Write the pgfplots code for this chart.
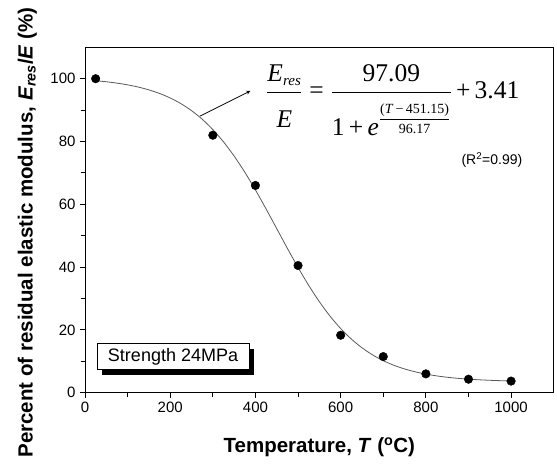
\documentclass[border=0pt]{standalone}
\usepackage{fontspec}
\setmainfont{Liberation Sans}
\newfontfamily\tnr{Liberation Serif}
\usepackage{pgfplots}
\pgfplotsset{compat=1.18}
\usetikzlibrary{shadows}
\begin{document}
\begin{tikzpicture}
\begin{axis}[
  at={(0,0)}, anchor=south west,
  width=468.7pt, height=345.4pt, scale only axis,
  xmin=0, xmax=1100, ymin=0, ymax=110,
  xtick={0,200,...,1000}, ytick={0,20,...,100},
  minor x tick num=1, minor y tick num=1,
  xtick pos=bottom, ytick pos=left,
  tick align=outside,
  major tick length=5pt, minor tick length=4pt,
  axis line style={line width=0.9pt, black},
  every tick/.style={line width=0.9pt, black},
  tick label style={font=\fontsize{15}{15}\selectfont},
  /pgf/number format/assume math mode=true,
  /pgf/number format/1000 sep={},
  x tick label style={yshift=-1pt},
  y tick label style={xshift=-1pt},
  xlabel={\textbf{Temperature, \textit{T} (\textsuperscript{o}C)}},
  ylabel={\textbf{Percent of residual elastic modulus, \textit{E}\textsubscript{\textit{res}}/\textit{E} (\%)}},
  xlabel style={font=\fontsize{20.5}{22}\selectfont, at={(axis description cs:0.5,-0.1737)}, anchor=base, inner sep=0pt},
  ylabel style={font=\fontsize{20.5}{22}\selectfont, at={(axis description cs:-0.1024,0.464)}, anchor=south, inner sep=0pt},
  clip=false,
]
\addplot[color=black!65, line width=0.8pt, smooth] coordinates {
(25,99.36) (50,99.03) (75,98.59) (100,98.04) (125,97.34) (150,96.44) (175,95.30)
(200,93.86) (225,92.06) (250,89.83) (275,87.10) (300,83.80) (325,79.90) (350,75.36)
(375,70.23) (400,64.57) (425,58.51) (450,52.25) (475,45.97) (500,39.88) (525,34.18)
(550,28.99) (575,24.40) (600,20.44) (625,17.09) (650,14.31) (675,12.04) (700,10.20)
(725,8.73) (750,7.57) (775,6.65) (800,5.92) (825,5.36) (850,4.92) (875,4.58)
(900,4.31) (925,4.11) (950,3.95) (975,3.83) (1000,3.73)
};
\addplot[only marks, mark=*, mark size=4.3pt, mark options={fill=black, draw=black}] coordinates {
(25,100) (300,82) (400,66) (500,40.5) (600,18.3) (700,11.5) (800,6) (900,4.3) (1000,3.7)
};
\draw[-stealth, line width=0.8pt] (axis cs:270,88.1) -- (axis cs:388,96.1);
\node[anchor=base west, inner sep=0pt, font=\tnr\fontsize{25.5}{28}\selectfont] at (axis cs:425,93.6)
 {$\displaystyle\frac{\mbox{\textit{E}}_{\mbox{\fontsize{15}{15}\selectfont\textit{res}}}}{\rule{0pt}{34pt}\mbox{\textit{E}}}
 \;\mbox{=}\;
 \frac{\mbox{97.09}}{\rule{0pt}{42pt}\mbox{1\,+\,\textit{e}}^{\mbox{\fontsize{14}{15}\selectfont$\displaystyle\frac{\mbox{(\textit{T}\,−\,451.15)}}{\mbox{96.17}}$}}}
 \,\mbox{+}\,\mbox{3.41}$};
\node[font=\fontsize{14}{14}\selectfont, inner sep=0pt] at (axis cs:955,74.2) {(R\textsuperscript{2}=0.99)};
\node[draw=black, fill=white, line width=0.9pt, minimum width=152pt, minimum height=26pt, inner sep=0pt,
  font=\fontsize{18}{18}\selectfont,
  drop shadow={fill=black, opacity=1, shadow xshift=5pt, shadow yshift=-5pt}]
  at (axis cs:206.6,11.4) {Strength 24MPa};
\end{axis}
\pgfresetboundingbox
\path[use as bounding box] (-85pt,-71.3pt) rectangle (472pt,392.7pt);
\end{tikzpicture}
\end{document}
